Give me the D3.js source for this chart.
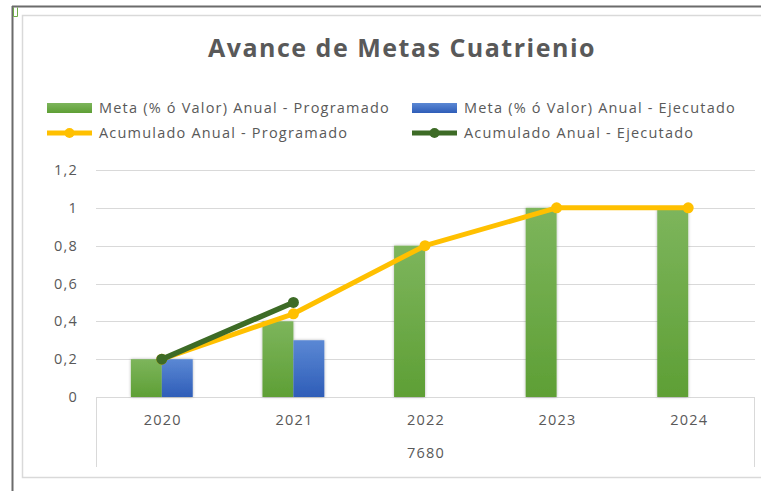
<!DOCTYPE html>
<html>
<head>
<meta charset="utf-8">
<script src="https://cdn.jsdelivr.net/npm/d3@7"></script>
<style>
  body { margin: 0; background: #fff; }
  svg text { font-family: "Open Sans", "Noto Sans", sans-serif; fill: #595959; }
  .small { font-size: 14.5px; letter-spacing: 1.2px; }
</style>
</head>
<body>
<div id="chart"></div>
<script>
// Data
const years = ["2020", "2021", "2022", "2023", "2024"];
const groupLabel = "7680";
const metaProgramado = [0.2, 0.4, 0.8, 1, 1];
const metaEjecutado = [0.2, 0.3, 0, 0, 0];
const acumProgramado = [0.2, 0.44, 0.8, 1, 1];
const acumEjecutado = [0.2, 0.5];
const yTicks = [0, 0.2, 0.4, 0.6, 0.8, 1, 1.2];
const seriesNames = [
    "Meta (% ó Valor) Anual - Programado",
    "Meta (% ó Valor) Anual - Ejecutado",
    "Acumulado Anual - Programado",
    "Acumulado Anual - Ejecutado"
];

const width = 761, height = 491;
const plotLeft = 96, plotRight = 754, plotTop = 170, plotBottom = 397;

let svg = d3.select('#chart').append('svg')
    .attr('width', width)
    .attr('height', height);

// Gradients and shadow
let defs = svg.append('defs');
function gradient(id, c1, c2) {
    let g = defs.append('linearGradient').attr('id', id)
        .attr('x1', 0).attr('y1', 0).attr('x2', 0).attr('y2', 1);
    g.append('stop').attr('offset', '0%').attr('stop-color', c1);
    g.append('stop').attr('offset', '100%').attr('stop-color', c2);
}
gradient('gGreen', '#7db55c', '#5e9f35');
gradient('gBlue', '#5b88d4', '#2e5db8');
defs.append('filter').attr('id', 'shadow')
    .attr('x', '-30%').attr('y', '-10%').attr('width', '160%').attr('height', '120%')
    .append('feDropShadow')
    .attr('dx', 0).attr('dy', 0).attr('stdDeviation', 1.5)
    .attr('flood-color', '#000').attr('flood-opacity', 0.3);

// Outer frame
svg.append('line').attr('x1', 12).attr('x2', width).attr('y1', 6.5).attr('y2', 6.5)
    .attr('stroke', '#6b6b6b').attr('stroke-width', 2);
svg.append('line').attr('x1', 12.5).attr('x2', 12.5).attr('y1', 6).attr('y2', height)
    .attr('stroke', '#6b6b6b').attr('stroke-width', 2);
svg.append('path').attr('d', 'M13.5,7.5V16.5H17.5V7.5')
    .attr('fill', 'none').attr('stroke', '#70ad47').attr('stroke-width', 1);
svg.append('rect').attr('x', 22.5).attr('y', 15.5).attr('width', width).attr('height', 462)
    .attr('fill', '#fff').attr('stroke', '#d9d9d9').attr('stroke-width', 1.5);

// Title
svg.append('text')
    .attr('x', 402).attr('y', 57)
    .attr('text-anchor', 'middle')
    .style('font-size', '25px')
    .style('letter-spacing', '1.5px')
    .style('font-weight', 'bold')
    .text('Avance de Metas Cuatrienio');

// Scales
let x = d3.scaleBand().domain(years).range([plotLeft, plotRight])
    .paddingInner(0.53).paddingOuter(0.265);
let xSub = d3.scaleBand().domain(['prog', 'ejec']).range([0, x.bandwidth()]);
let y = d3.scaleLinear().domain([0, 1.2]).range([plotBottom, plotTop]);
let fmt = d => d3.format('.1f')(d).replace('.', ',').replace(',0', '');

// Gridlines and y labels
svg.append('g').selectAll('line').data(yTicks.filter(d => d > 0)).enter()
    .append('line')
    .attr('x1', plotLeft).attr('x2', plotRight + 1)
    .attr('y1', d => Math.round(y(d)) + 0.5).attr('y2', d => Math.round(y(d)) + 0.5)
    .attr('stroke', '#d9d9d9').attr('stroke-width', 1);
svg.append('g').selectAll('text').data(yTicks).enter()
    .append('text')
    .attr('class', 'small')
    .attr('x', 78).attr('y', d => y(d))
    .attr('dy', '0.35em')
    .attr('text-anchor', 'end')
    .text(d => d === 0 ? '0' : fmt(d));

// Category axis box
let axis = svg.append('g').attr('stroke', '#d9d9d9').attr('stroke-width', 1);
axis.append('line').attr('x1', plotLeft).attr('x2', plotRight).attr('y1', plotBottom + 0.5).attr('y2', plotBottom + 0.5);
axis.append('line').attr('x1', plotLeft + 0.5).attr('x2', plotLeft + 0.5).attr('y1', plotBottom).attr('y2', 467);
axis.append('line').attr('x1', plotRight + 0.5).attr('x2', plotRight + 0.5).attr('y1', plotBottom).attr('y2', 467);

svg.append('g').selectAll('text').data(years).enter()
    .append('text')
    .attr('class', 'small')
    .attr('x', d => x(d) + x.bandwidth() / 2 + 1).attr('y', 420)
    .attr('dy', '0.35em')
    .attr('text-anchor', 'middle')
    .text(d => d);
svg.append('text')
    .attr('class', 'small')
    .attr('x', (plotLeft + plotRight) / 2 + 1).attr('y', 453)
    .attr('dy', '0.35em')
    .attr('text-anchor', 'middle')
    .text(groupLabel);

// Bars
let bars = svg.append('g').attr('filter', 'url(#shadow)');
bars.selectAll('.prog').data(metaProgramado).enter()
    .append('rect').attr('class', 'prog')
    .attr('x', (d, i) => x(years[i]) + xSub('prog'))
    .attr('width', xSub.bandwidth())
    .attr('y', d => y(d))
    .attr('height', d => y(0) - y(d))
    .attr('fill', 'url(#gGreen)');
bars.selectAll('.ejec').data(metaEjecutado.filter(d => d > 0)).enter()
    .append('rect').attr('class', 'ejec')
    .attr('x', (d, i) => x(years[i]) + xSub('ejec'))
    .attr('width', xSub.bandwidth())
    .attr('y', d => y(d))
    .attr('height', d => y(0) - y(d))
    .attr('fill', 'url(#gBlue)');

// Lines
let cx = i => x(years[i]) + x.bandwidth() / 2;
let line = d3.line().x((d, i) => cx(i)).y(d => y(d));

function drawLine(data, color, w) {
    let g = svg.append('g');
    g.append('path').datum(data)
        .attr('d', line)
        .attr('fill', 'none')
        .attr('stroke', color)
        .attr('stroke-width', w)
        .attr('stroke-linejoin', 'round')
        .attr('stroke-linecap', 'round');
    g.selectAll('circle').data(data).enter()
        .append('circle')
        .attr('cx', (d, i) => cx(i)).attr('cy', d => y(d))
        .attr('r', 5.5)
        .attr('fill', color);
}
drawLine(acumProgramado, '#ffc000', 5);
drawLine(acumEjecutado, '#3d6b26', 5.5);

// Legend
let legend = svg.append('g');
let items = [
    { x: 47, y: 108, type: 'bar', fill: 'url(#gGreen)' },
    { x: 412, y: 108, type: 'bar', fill: 'url(#gBlue)' },
    { x: 47, y: 133, type: 'line', fill: '#ffc000' },
    { x: 412, y: 133, type: 'line', fill: '#3d6b26' }
];
items.forEach(function(it, i) {
    if (it.type === 'bar') {
        legend.append('rect').attr('x', it.x).attr('y', it.y - 5)
            .attr('width', 45).attr('height', 10).attr('fill', it.fill);
    } else {
        legend.append('line').attr('x1', it.x).attr('x2', it.x + 45)
            .attr('y1', it.y).attr('y2', it.y)
            .attr('stroke', it.fill).attr('stroke-width', 5);
        legend.append('circle').attr('cx', it.x + 22.5).attr('cy', it.y).attr('r', 5)
            .attr('fill', it.fill);
    }
    legend.append('text').attr('class', 'small')
        .attr('x', it.x + 52).attr('y', it.y)
        .attr('dy', '0.35em')
        .text(seriesNames[i]);
});
</script>
</body>
</html>
